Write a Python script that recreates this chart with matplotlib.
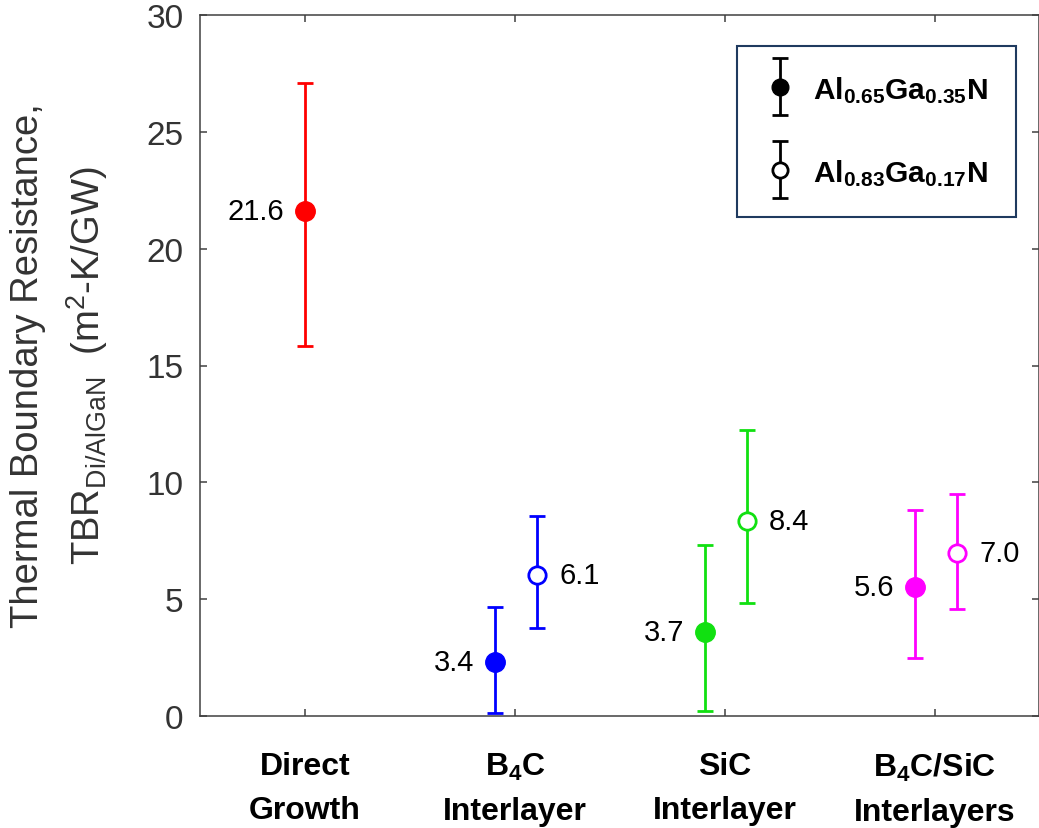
import numpy as np
import matplotlib
matplotlib.use("Agg")
import matplotlib.pyplot as plt
from matplotlib.container import ErrorbarContainer
from matplotlib.legend_handler import HandlerErrorbar

plt.rcParams['font.family'] = ['Liberation Sans', 'DejaVu Sans']
plt.rcParams['mathtext.fontset'] = 'custom'
plt.rcParams['mathtext.rm'] = 'Liberation Sans'
plt.rcParams['mathtext.bf'] = 'Liberation Sans:bold'
plt.rcParams['mathtext.default'] = 'regular'

# ---------------- data ----------------
categories = ['Direct\nGrowth', 'B$_4$C\nInterlayer', 'SiC\nInterlayer', 'B$_4$C/SiC\nInterlayers']
colors = ['#FF0000', '#0000FF', '#11E011', '#FF00FF']

# Al0.65Ga0.35N (filled markers), one per category
al065_values = [21.6, 2.3, 3.6, 5.5]
al065_lower = [15.85, 0.12, 0.23, 2.48]
al065_upper = [27.1, 4.65, 7.33, 8.81]
al065_labels = ['21.6', '3.4', '3.7', '5.6']

# Al0.83Ga0.17N (open markers), categories 2-4
al083_cats = [1, 2, 3]
al083_values = [6.05, 8.33, 6.96]
al083_lower = [3.75, 4.82, 4.58]
al083_upper = [8.55, 12.25, 9.50]
al083_labels = ['6.1', '8.4', '7.0']

legend_labels = ['Al$_{0.65}$Ga$_{0.35}$N', 'Al$_{0.83}$Ga$_{0.17}$N']
yticks = [0, 5, 10, 15, 20, 25, 30]

# ---------------- figure ----------------
W, H = 1039, 829
fig = plt.figure(figsize=(W / 100, H / 100), dpi=100)
ax = fig.add_axes([200 / W, 1 - 717 / H, (1038.5 - 200) / W, (717 - 16) / H])

off_closed = [0.0, -0.095, -0.095, -0.095]
off_open = 0.104

eb_kw = dict(fmt='o', elinewidth=2.0, capsize=6, capthick=2.0)
xs = np.arange(1, len(categories) + 1)

for i in range(len(categories)):
    x = xs[i] + off_closed[i]
    v = al065_values[i]
    yerr = [[v - al065_lower[i]], [al065_upper[i] - v]]
    ax.errorbar([x], [v], yerr=yerr, color=colors[i], ms=14,
                mfc=colors[i], mec=colors[i], **eb_kw)
    ax.annotate(al065_labels[i], xy=(x, v), xytext=(-15, 0), textcoords='offset points',
                ha='right', va='center', fontsize=21, color='black')

for j, c in enumerate(al083_cats):
    x = xs[c] + off_open
    v = al083_values[j]
    yerr = [[v - al083_lower[j]], [al083_upper[j] - v]]
    ax.errorbar([x], [v], yerr=yerr, color=colors[c], ms=12.5,
                mfc='white', mec=colors[c], mew=2.0, **eb_kw)
    ax.annotate(al083_labels[j], xy=(x, v), xytext=(16, 0), textcoords='offset points',
                ha='left', va='center', fontsize=21, color='black')

ax.set_xlim(0.5, 4.493)
ax.set_ylim(0, 30)
ax.set_yticks(yticks)
ax.set_xticks(xs)
ax.set_xticklabels(categories, fontsize=23, fontweight='bold', color='black',
                   linespacing=1.62)
for t in ax.get_yticklabels():
    t.set_fontsize(24)
    t.set_color('#333333')

ax.tick_params(axis='x', direction='in', length=5, width=1.1, color='#404040',
               top=True, pad=25)
ax.tick_params(axis='y', direction='in', length=5, width=1.1, color='#404040',
               right=True, pad=12)
for s in ax.spines.values():
    s.set_color('#404040')
    s.set_linewidth(1.1)

fig.text(60 / W, 1 - 366 / H,
         'Thermal Boundary Resistance,\nTBR$_{Di/AlGaN}$  (m$^2$-K/GW)',
         rotation=90, ha='center', va='center', multialignment='center',
         fontsize=27.5, color='#333333', linespacing=1.5)

# legend proxies
h1 = ax.errorbar([np.nan], [np.nan], yerr=[[1], [1]], color='black', ms=12,
                 mfc='black', mec='black', **eb_kw)
h2 = ax.errorbar([np.nan], [np.nan], yerr=[[1], [1]], color='black', ms=11,
                 mfc='white', mec='black', mew=2.0, **eb_kw)
leg = ax.legend([h1, h2], legend_labels, loc='upper right',
                bbox_to_anchor=(1016 / W, 1 - 47 / H), bbox_transform=fig.transFigure,
                borderaxespad=0, prop={'weight': 'bold', 'size': 21.5},
                handler_map={ErrorbarContainer: HandlerErrorbar(yerr_size=0.95)},
                handleheight=1.0, labelspacing=1.75, borderpad=0.95,
                handlelength=1.0, handletextpad=0.6, numpoints=1,
                fancybox=False, framealpha=1)
leg.get_frame().set_edgecolor('#1F3A5F')
leg.get_frame().set_linewidth(1.5)

fig.savefig('out.png', dpi=100)
